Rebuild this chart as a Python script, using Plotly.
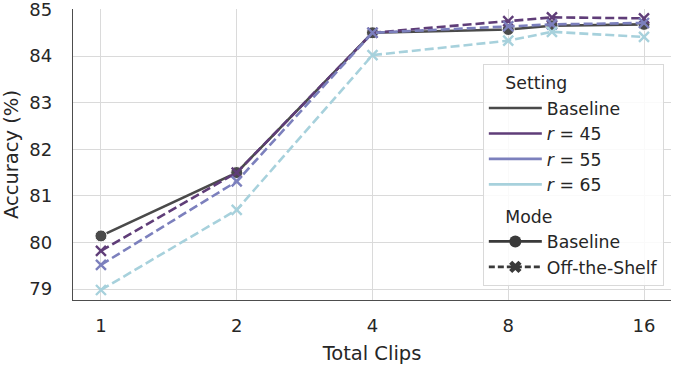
import plotly.graph_objects as go

clips = [1, 2, 4, 8, 10, 16]
tick_vals = [1, 2, 4, 8, 16]
tick_text = ["1", "2", "4", "8", "16"]

baseline = [80.14, 81.50, 84.50, 84.57, 84.65, 84.68]
r45 = [79.82, 81.50, 84.50, 84.75, 84.83, 84.81]
r55 = [79.52, 81.31, 84.50, 84.64, 84.68, 84.71]
r65 = [78.98, 80.70, 84.02, 84.33, 84.52, 84.41]

setting_names = ["Baseline", "<i>r</i> = 45", "<i>r</i> = 55", "<i>r</i> = 65"]
colors = ["#4a4a4a", "#5f3d78", "#7c80bd", "#a7d1dc"]

FONT = "DejaVu Sans"
TXT = "#262626"
DASH = "9px,4px"
LFS = 17.3

fig = go.Figure()

# data traces
fig.add_trace(go.Scatter(
    x=clips, y=baseline, mode="lines+markers", showlegend=False,
    line=dict(color=colors[0], width=2.6),
    marker=dict(symbol="circle", size=12, color=colors[0], line=dict(color="white", width=1)),
))
for vals, col in zip([r45, r55, r65], colors[1:]):
    fig.add_trace(go.Scatter(
        x=clips, y=vals, mode="lines+markers", showlegend=False,
        line=dict(color=col, width=2.6, dash=DASH),
        marker=dict(symbol="x-thin", size=10, color=col, line=dict(color=col, width=2.4)),
    ))

GT = dict(font=dict(size=LFS, color=TXT))
# legend: Setting
for name, col in zip(setting_names, colors):
    fig.add_trace(go.Scatter(
        x=[None], y=[None], mode="lines", name=name,
        line=dict(color=col, width=2.6),
        legendgroup="setting", legendgrouptitle=dict(text="&nbsp;&nbsp;&nbsp;Setting", **GT),
    ))
# legend: Mode
fig.add_trace(go.Scatter(
    x=[None], y=[None], mode="lines+markers", name="Baseline",
    line=dict(color="#3a3a3a", width=2.6),
    marker=dict(symbol="circle", size=12, color="#3a3a3a"),
    legendgroup="mode", legendgrouptitle=dict(text="&nbsp;&nbsp;&nbsp;Mode", **GT),
))
fig.add_trace(go.Scatter(
    x=[None], y=[None], mode="lines+markers", name="Off-the-Shelf",
    line=dict(color="#3a3a3a", width=2.6, dash="6px,3px"),
    marker=dict(symbol="x", size=11, color="#3a3a3a"),
    legendgroup="mode", legendgrouptitle=dict(text="&nbsp;&nbsp;&nbsp;Mode", **GT),
))

fig.update_layout(
    width=675, height=367,
    margin=dict(l=73, r=4, t=9, b=67),
    paper_bgcolor="white", plot_bgcolor="white",
    font=dict(family=FONT, size=18, color=TXT),
    legend=dict(
        x=0.988, y=0.812, xanchor="right", yanchor="top",
        bgcolor="rgba(255,255,255,0.85)", bordercolor="#d9d9d9", borderwidth=1,
        font=dict(size=LFS, color=TXT), traceorder="grouped",
        tracegroupgap=6, itemwidth=53,
    ),
)
fig.update_xaxes(
    type="log", range=[-0.062, 1.264], automargin=False,
    tickvals=tick_vals, ticktext=tick_text,
    showgrid=True, gridcolor="#dadada", gridwidth=1,
    showline=True, linecolor="#4d4d4d", linewidth=1.3,
    ticks="", ticklabelstandoff=9, tickfont=dict(size=18, color=TXT),
    title=dict(text="Total Clips", font=dict(size=19.5, color=TXT), standoff=11),
    zeroline=False,
)
fig.update_yaxes(
    range=[78.765, 85.01], automargin=False,
    tickvals=[79, 80, 81, 82, 83, 84, 85],
    showgrid=True, gridcolor="#dadada", gridwidth=1,
    showline=True, linecolor="#4d4d4d", linewidth=1.3,
    ticks="", ticklabelstandoff=16, tickfont=dict(size=18, color=TXT),
    ticklabeloverflow="allow",
    title=dict(text="Accuracy (%)", font=dict(size=19.5, color=TXT), standoff=8),
    zeroline=False,
)

fig.write_html("out.html", config={"displayModeBar": False},
               post_script="document.body.style.margin='0px';")
